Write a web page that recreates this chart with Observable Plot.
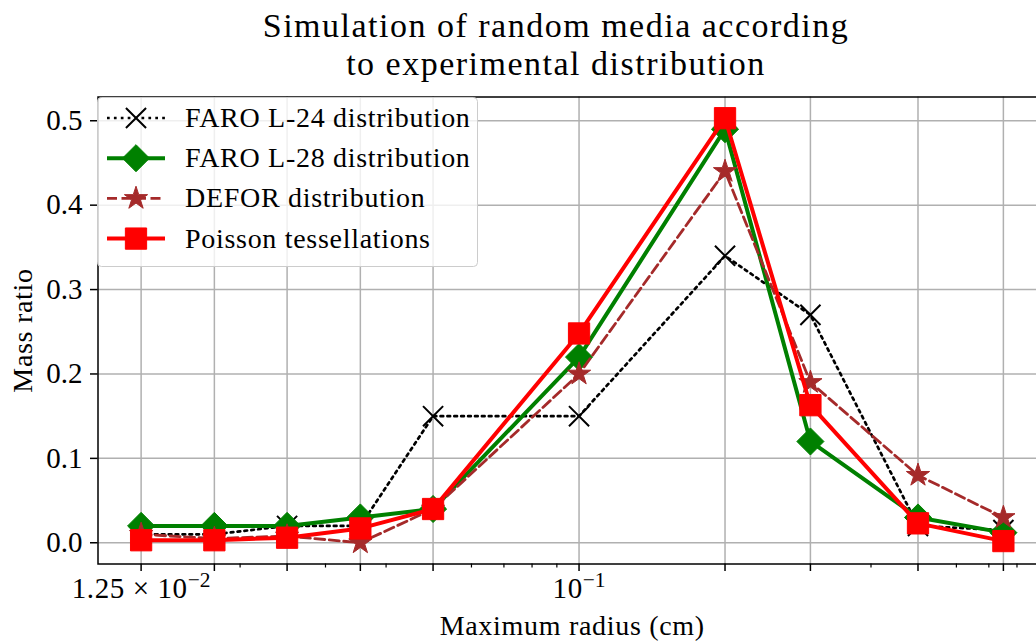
<!DOCTYPE html>
<html><head><meta charset="utf-8">
<script src="https://cdn.jsdelivr.net/npm/d3@7"></script>
<script src="https://cdn.jsdelivr.net/npm/@observablehq/plot@0.6"></script>
<style>
html,body{margin:0;padding:0;background:#fff;overflow:hidden;width:1036px;height:642px;}
#wrap{position:relative;width:1036px;height:642px;overflow:hidden;}
#chart{position:absolute;left:0;top:0;width:1046px;height:642px;}
#chart svg{max-width:none !important;width:1046px !important;height:642px !important;}
#title{position:absolute;left:0;top:0;width:1112px;text-align:center;font-family:"Liberation Serif",serif;font-size:34px;letter-spacing:1.5px;line-height:37.5px;color:#000;padding-top:7px;}
#legend{position:absolute;left:0;top:0;}
</style></head><body>
<div id="wrap"><div id="chart"></div><div id="title">Simulation of random media according<br>to experimental distribution</div><svg id="legend" width="1036" height="642"></svg></div>
<script>
// ---- data ----
const radius = [0.0125, 0.0177, 0.025, 0.0354, 0.05, 0.1, 0.2, 0.3, 0.5, 0.75];
const faroL24 = [0.01, 0.01, 0.02, 0.02, 0.15, 0.15, 0.34, 0.27, 0.02, 0.015];
const faroL28 = [0.02, 0.02, 0.02, 0.03, 0.04, 0.22, 0.49, 0.12, 0.03, 0.012];
const defor   = [0.01, 0.005, 0.008, 0.0, 0.04, 0.20, 0.44, 0.19, 0.08, 0.03];
const poisson = [0.003, 0.003, 0.006, 0.017, 0.04, 0.248, 0.503, 0.163, 0.023, 0.002];
const seriesNames = ["FARO L-24 distribution", "FARO L-28 distribution", "DEFOR distribution", "Poisson tessellations"];
const yTicks = [0, 0.1, 0.2, 0.3, 0.4, 0.5];
const xMinorTicks = [0.02, 0.03, 0.04, 0.06, 0.07, 0.08, 0.09, 0.4, 0.6, 0.7, 0.8];
const xTickLabels = new Map([[0.0125, "1.25 × 10^−2"], [0.1, "10^−1"]]);
const xLabel = "Maximum radius (cm)";
const yLabel = "Mass ratio";

// ---- styles ----
const styles = [
  {color: "black", symbol: "times", d3sym: d3.symbolTimes, r: 9.2, dash: "2.7,4.2", width: 2.7, filled: false},
  {color: "green", symbol: "diamond2", d3sym: d3.symbolDiamond2, r: 12.2, dash: null, width: 4, filled: true},
  {color: "#a52a2a", symbol: "star", d3sym: d3.symbolStar, r: 7.3, dash: "10,4.5", width: 2.8, filled: true},
  {color: "red", symbol: "square", d3sym: d3.symbolSquare, r: 12, dash: null, width: 4, filled: true}
];
const allSeries = [faroL24, faroL28, defor, poisson];

const [lo, hi] = d3.extent(radius).map(Math.log10);
const xpad = (hi - lo) * 0.05;
const xDomain = [10 ** (lo - xpad), 10 ** (hi + xpad)];
const yMaxV = d3.max(allSeries.flat()), yMinV = d3.min(allSeries.flat());
const ypad = (yMaxV - yMinV) * 0.05;
const yDomain = [yMinV - ypad, yMaxV + ypad];

const seriesMarks = allSeries.flatMap((vals, i) => {
  const rows = radius.map((x, j) => ({x, y: vals[j]}));
  const s = styles[i];
  return [
    Plot.line(rows, {x: "x", y: "y", stroke: s.color, strokeWidth: s.width, strokeDasharray: s.dash || undefined, strokeLinejoin: "round"}),
    Plot.dot(rows, {x: "x", y: "y", symbol: () => s.symbol, r: s.r, fill: s.filled ? s.color : "none", stroke: s.color, strokeWidth: s.filled ? 1 : 2})
  ];
});

const chart = Plot.plot({
  width: 1046, height: 642,
  marginLeft: 97.5, marginRight: 0, marginTop: 96.5, marginBottom: 78.5,
  style: {fontFamily: "Liberation Serif, serif", fontSize: "29px", background: "transparent", color: "black", maxWidth: "none"},
  x: {type: "log", domain: xDomain},
  y: {domain: yDomain},
  marks: [
    Plot.gridY(yTicks, {stroke: "#b0b0b0", strokeOpacity: 1, strokeWidth: 1.5}),
    Plot.gridX(radius, {stroke: "#b0b0b0", strokeOpacity: 1, strokeWidth: 1.5}),
    ...seriesMarks,
    Plot.frame({stroke: "black", strokeWidth: 1.5}),
    Plot.axisY(yTicks, {tickSize: 7.5, tickPadding: 8, strokeWidth: 1.5, tickFormat: d3.format(".1f"), fontSize: 29, label: null}),
    Plot.axisX(radius, {tickSize: 7.5, tickPadding: 6, strokeWidth: 1.5, tickFormat: d => xTickLabels.get(d) || "", fontSize: 29, label: null}),
    Plot.axisX(xMinorTicks, {tickSize: 4, strokeWidth: 1.2, tickFormat: () => "", label: null}),
    Plot.text([yLabel], {frameAnchor: "left", dx: -75, rotate: -90, textAnchor: "middle", lineAnchor: "middle", fontSize: 28, fill: "black"}),
    Plot.text([xLabel], {frameAnchor: "bottom", dy: 62, textAnchor: "middle", lineAnchor: "middle", fontSize: 28, fill: "black"})
  ]
});
document.getElementById("chart").appendChild(chart);

// letter-spacing for labels & superscripts in tick labels
d3.select(chart).selectAll("text").each(function() {
  const t = this.textContent;
  if (t === xLabel || t === yLabel) this.setAttribute("letter-spacing", "0.7");
  const m = /^(.*)\^(.*)$/.exec(t);
  if (m) {
    const sel = d3.select(this);
    sel.text(null);
    sel.append("tspan").attr("letter-spacing", "0.6").text(m[1]);
    sel.append("tspan").attr("dy", "-0.5em").attr("font-size", "0.74em").text(m[2]);
  }
});

// ---- legend ----
const lg = d3.select("#legend");
lg.append("rect").attr("x", 97.5).attr("y", 97.5).attr("width", 380).attr("height", 169).attr("rx", 4)
  .attr("fill", "white").attr("fill-opacity", 0.8).attr("stroke", "#cccccc");
seriesNames.forEach((name, i) => {
  const s = styles[i];
  const cy = 118 + i * 40.2;
  lg.append("line").attr("x1", 107).attr("x2", 165).attr("y1", cy).attr("y2", cy)
    .attr("stroke", s.color).attr("stroke-width", s.width).attr("stroke-dasharray", s.dash || null);
  lg.append("path").attr("d", d3.symbol(s.d3sym, Math.PI * s.r * s.r)()).attr("transform", `translate(136,${cy})`)
    .attr("fill", s.filled ? s.color : "none").attr("stroke", s.color).attr("stroke-width", s.filled ? 1 : 2);
  lg.append("text").attr("x", 185).attr("y", cy + 9).attr("font-family", "Liberation Serif, serif").attr("font-size", 28)
    .attr("letter-spacing", 0.7).attr("fill", "black").text(name);
});
</script>
</body></html>
